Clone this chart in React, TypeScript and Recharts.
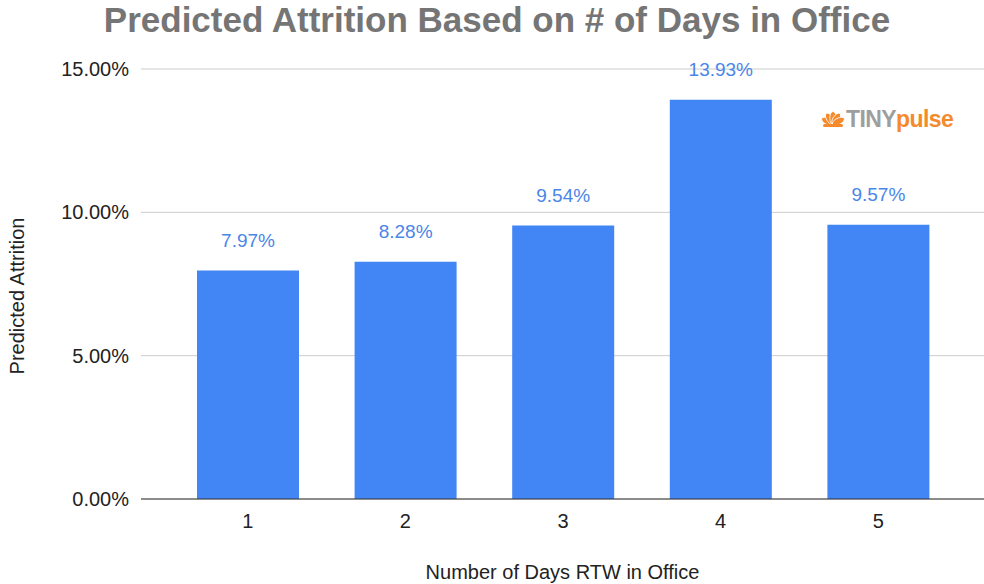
import React from "react";
import {
  BarChart,
  Bar,
  XAxis,
  YAxis,
  CartesianGrid,
  LabelList,
  Label,
} from "recharts";

const days = ["1", "2", "3", "4", "5"];
const attrition = [7.97, 8.28, 9.54, 13.93, 9.57];
const yTicks = [0, 5, 10, 15];

const data = days.map((d, i) => ({ day: d, value: attrition[i] }));

const FONT = '"Liberation Sans", Arial, Helvetica, sans-serif';
const pct = (v: number) => `${v.toFixed(2)}%`;

function Lotus() {
  const petals = [-64, -32, 0, 32, 64];
  return (
    <svg width={24} height={18} viewBox="0 0 24 18">
      {petals.map((a) => (
        <ellipse
          key={a}
          cx={12}
          cy={8}
          rx={3.2}
          ry={6.5}
          fill="#f58a2c"
          stroke="#fff"
          strokeWidth={0.8}
          transform={`rotate(${a} 12 14)`}
        />
      ))}
      <rect x={2} y={14} width={20} height={3} rx={1.5} fill="#f58a2c" />
    </svg>
  );
}

export default function App() {
  return (
    <div style={{ position: "absolute", left: 0, top: 0, width: 984, height: 584, fontFamily: FONT, background: "#fff" }}>
      <div
        style={{
          position: "absolute",
          left: 0,
          width: 994,
          top: 0,
          textAlign: "center",
          fontSize: 35,
          fontWeight: "bold",
          color: "#757575",
          lineHeight: "40px",
        }}
      >
        Predicted Attrition Based on # of Days in Office
      </div>
      <div
        style={{
          position: "absolute",
          left: 821,
          top: 106,
          display: "flex",
          alignItems: "center",
          fontSize: 23,
          fontWeight: "bold",
          letterSpacing: -0.6,
          lineHeight: "26px",
        }}
      >
        <Lotus />
        <span style={{ color: "#9e9e9e", marginLeft: 1 }}>TINY</span>
        <span style={{ color: "#f58a2c" }}>pulse</span>
      </div>
      <BarChart
        width={984}
        height={584}
        data={data}
        margin={{ top: 69, right: 0, left: 0, bottom: 0 }}
        style={{ fontFamily: FONT }}
      >
        <CartesianGrid vertical={false} stroke="#cccccc" />
        <XAxis
          dataKey="day"
          height={85}
          padding={{ left: 28, right: 27 }}
          tickLine={false}
          tickSize={0}
          tickMargin={15}
          axisLine={{ stroke: "#333333" }}
          tick={{ fill: "#222222", fontSize: 20 }}
        >
          <Label
            value="Number of Days RTW in Office"
            position="insideBottom"
            offset={5}
            style={{ fill: "#222222", fontSize: 20 }}
          />
        </XAxis>
        <YAxis
          width={141}
          domain={[0, 15]}
          ticks={yTicks}
          tickFormatter={pct}
          tickLine={false}
          axisLine={false}
          tickSize={0}
          tickMargin={12}
          tick={{ fill: "#222222", fontSize: 20 }}
        >
          <Label
            content={() => (
              <text
                x={17}
                y={296}
                transform="rotate(-90 17 296)"
                textAnchor="middle"
                dominantBaseline="central"
                fill="#222222"
                fontSize={20}
                fontFamily={FONT}
              >
                Predicted Attrition
              </text>
            )}
          />
        </YAxis>
        <Bar dataKey="value" fill="#4285f4" barSize={102} isAnimationActive={false}>
          <LabelList
            dataKey="value"
            position="top"
            offset={24}
            formatter={(v: any) => pct(Number(v))}
            style={{ fill: "#4a86e8", fontSize: 19 }}
          />
        </Bar>
      </BarChart>
    </div>
  );
}
